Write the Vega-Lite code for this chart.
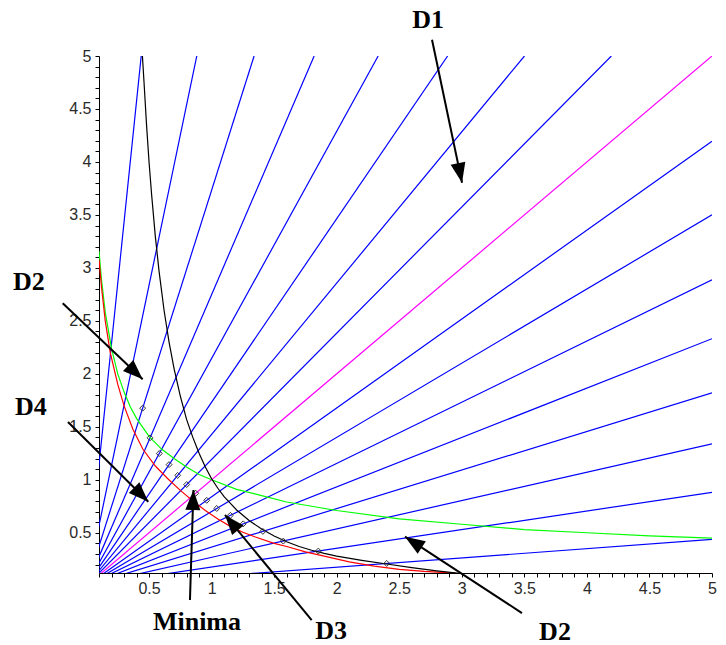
{
  "$schema": "https://vega.github.io/schema/vega-lite/v6.json",
  "width": 613,
  "height": 517,
  "autosize": {"type": "none"},
  "padding": {"left": 99, "top": 56, "right": 14, "bottom": 72},
  "background": "white",
  "config": {
    "view": {"stroke": null},
    "axis": {
      "grid": false,
      "title": null,
      "domainColor": "#000000",
      "domainWidth": 1,
      "tickColor": "#000000",
      "tickSize": 4,
      "tickWidth": 1,
      "labelFont": "Liberation Sans",
      "labelFontSize": 16,
      "labelColor": "#2a2a2a",
      "labelFlush": false,
      "labelOverlap": false,
      "labelBound": false
    }
  },
  "datasets": {
    "curves": [
      {"curve": "ray", "id": "r05", "x": 0, "y": 0}, {"curve": "ray", "id": "r05", "x": 5, "y": 0.4374},
      {"curve": "ray", "id": "r10", "x": 0, "y": 0}, {"curve": "ray", "id": "r10", "x": 5, "y": 0.8816},
      {"curve": "ray", "id": "r15", "x": 0, "y": 0}, {"curve": "ray", "id": "r15", "x": 5, "y": 1.3397},
      {"curve": "ray", "id": "r20", "x": 0, "y": 0}, {"curve": "ray", "id": "r20", "x": 5, "y": 1.8199},
      {"curve": "ray", "id": "r25", "x": 0, "y": 0}, {"curve": "ray", "id": "r25", "x": 5, "y": 2.3315},
      {"curve": "ray", "id": "r30", "x": 0, "y": 0}, {"curve": "ray", "id": "r30", "x": 5, "y": 2.8868},
      {"curve": "ray", "id": "r35", "x": 0, "y": 0}, {"curve": "ray", "id": "r35", "x": 5, "y": 3.501},
      {"curve": "ray", "id": "r40", "x": 0, "y": 0}, {"curve": "ray", "id": "r40", "x": 5, "y": 4.1955},
      {"curve": "ray", "id": "r50", "x": 0, "y": 0}, {"curve": "ray", "id": "r50", "x": 4.1955, "y": 5},
      {"curve": "ray", "id": "r55", "x": 0, "y": 0}, {"curve": "ray", "id": "r55", "x": 3.501, "y": 5},
      {"curve": "ray", "id": "r60", "x": 0, "y": 0}, {"curve": "ray", "id": "r60", "x": 2.8868, "y": 5},
      {"curve": "ray", "id": "r65", "x": 0, "y": 0}, {"curve": "ray", "id": "r65", "x": 2.3315, "y": 5},
      {"curve": "ray", "id": "r70", "x": 0, "y": 0}, {"curve": "ray", "id": "r70", "x": 1.8199, "y": 5},
      {"curve": "ray", "id": "r75", "x": 0, "y": 0}, {"curve": "ray", "id": "r75", "x": 1.3397, "y": 5},
      {"curve": "ray", "id": "r80", "x": 0, "y": 0}, {"curve": "ray", "id": "r80", "x": 0.8816, "y": 5},
      {"curve": "ray", "id": "r85", "x": 0, "y": 0}, {"curve": "ray", "id": "r85", "x": 0.4374, "y": 5},
      {"curve": "diagonal", "id": "r45", "x": 0, "y": 0}, {"curve": "diagonal", "id": "r45", "x": 5, "y": 5},
      {"curve": "green", "id": "g", "x": 0.1, "y": 3.16},
      {"curve": "green", "id": "g", "x": 0.12, "y": 2.89},
      {"curve": "green", "id": "g", "x": 0.15, "y": 2.58},
      {"curve": "green", "id": "g", "x": 0.2, "y": 2.24},
      {"curve": "green", "id": "g", "x": 0.25, "y": 2.0},
      {"curve": "green", "id": "g", "x": 0.3, "y": 1.83},
      {"curve": "green", "id": "g", "x": 0.35, "y": 1.69},
      {"curve": "green", "id": "g", "x": 0.4, "y": 1.58},
      {"curve": "green", "id": "g", "x": 0.5, "y": 1.41},
      {"curve": "green", "id": "g", "x": 0.6, "y": 1.29},
      {"curve": "green", "id": "g", "x": 0.7, "y": 1.2},
      {"curve": "green", "id": "g", "x": 0.8, "y": 1.12},
      {"curve": "green", "id": "g", "x": 0.9, "y": 1.05},
      {"curve": "green", "id": "g", "x": 1.0, "y": 1.0},
      {"curve": "green", "id": "g", "x": 1.2, "y": 0.91},
      {"curve": "green", "id": "g", "x": 1.4, "y": 0.85},
      {"curve": "green", "id": "g", "x": 1.6, "y": 0.79},
      {"curve": "green", "id": "g", "x": 1.8, "y": 0.75},
      {"curve": "green", "id": "g", "x": 2.0, "y": 0.71},
      {"curve": "green", "id": "g", "x": 2.5, "y": 0.63},
      {"curve": "green", "id": "g", "x": 3.0, "y": 0.58},
      {"curve": "green", "id": "g", "x": 3.5, "y": 0.53},
      {"curve": "green", "id": "g", "x": 4.0, "y": 0.5},
      {"curve": "green", "id": "g", "x": 4.5, "y": 0.47},
      {"curve": "green", "id": "g", "x": 5.0, "y": 0.45},
      {"curve": "red", "id": "rd", "x": 0.1, "y": 3.08},
      {"curve": "red", "id": "rd", "x": 0.12, "y": 2.82},
      {"curve": "red", "id": "rd", "x": 0.15, "y": 2.5},
      {"curve": "red", "id": "rd", "x": 0.19, "y": 2.2},
      {"curve": "red", "id": "rd", "x": 0.25, "y": 1.9},
      {"curve": "red", "id": "rd", "x": 0.3, "y": 1.7},
      {"curve": "red", "id": "rd", "x": 0.37, "y": 1.48},
      {"curve": "red", "id": "rd", "x": 0.45, "y": 1.29},
      {"curve": "red", "id": "rd", "x": 0.55, "y": 1.13},
      {"curve": "red", "id": "rd", "x": 0.65, "y": 1.01},
      {"curve": "red", "id": "rd", "x": 0.75, "y": 0.9},
      {"curve": "red", "id": "rd", "x": 0.8, "y": 0.85},
      {"curve": "red", "id": "rd", "x": 0.85, "y": 0.8},
      {"curve": "red", "id": "rd", "x": 0.95, "y": 0.71},
      {"curve": "red", "id": "rd", "x": 1.05, "y": 0.63},
      {"curve": "red", "id": "rd", "x": 1.15, "y": 0.56},
      {"curve": "red", "id": "rd", "x": 1.25, "y": 0.505},
      {"curve": "red", "id": "rd", "x": 1.35, "y": 0.46},
      {"curve": "red", "id": "rd", "x": 1.5, "y": 0.4},
      {"curve": "red", "id": "rd", "x": 1.6, "y": 0.37},
      {"curve": "red", "id": "rd", "x": 1.75, "y": 0.32},
      {"curve": "red", "id": "rd", "x": 1.9, "y": 0.28},
      {"curve": "red", "id": "rd", "x": 2.1, "y": 0.225},
      {"curve": "red", "id": "rd", "x": 2.3, "y": 0.185},
      {"curve": "red", "id": "rd", "x": 2.5, "y": 0.155},
      {"curve": "red", "id": "rd", "x": 2.7, "y": 0.135},
      {"curve": "red", "id": "rd", "x": 2.95, "y": 0.118},
      {"curve": "black", "id": "bk", "x": 0.447, "y": 5.0},
      {"curve": "black", "id": "bk", "x": 0.46, "y": 4.75},
      {"curve": "black", "id": "bk", "x": 0.48, "y": 4.35},
      {"curve": "black", "id": "bk", "x": 0.5, "y": 4.0},
      {"curve": "black", "id": "bk", "x": 0.52, "y": 3.7},
      {"curve": "black", "id": "bk", "x": 0.55, "y": 3.3},
      {"curve": "black", "id": "bk", "x": 0.58, "y": 2.97},
      {"curve": "black", "id": "bk", "x": 0.62, "y": 2.6},
      {"curve": "black", "id": "bk", "x": 0.66, "y": 2.3},
      {"curve": "black", "id": "bk", "x": 0.7, "y": 2.05},
      {"curve": "black", "id": "bk", "x": 0.75, "y": 1.79},
      {"curve": "black", "id": "bk", "x": 0.8, "y": 1.57},
      {"curve": "black", "id": "bk", "x": 0.85, "y": 1.4},
      {"curve": "black", "id": "bk", "x": 0.9, "y": 1.25},
      {"curve": "black", "id": "bk", "x": 0.95, "y": 1.12},
      {"curve": "black", "id": "bk", "x": 1.0, "y": 1.01},
      {"curve": "black", "id": "bk", "x": 1.05, "y": 0.92},
      {"curve": "black", "id": "bk", "x": 1.1, "y": 0.84},
      {"curve": "black", "id": "bk", "x": 1.2, "y": 0.715},
      {"curve": "black", "id": "bk", "x": 1.3, "y": 0.615},
      {"curve": "black", "id": "bk", "x": 1.4, "y": 0.535},
      {"curve": "black", "id": "bk", "x": 1.5, "y": 0.47},
      {"curve": "black", "id": "bk", "x": 1.6, "y": 0.415},
      {"curve": "black", "id": "bk", "x": 1.7, "y": 0.37},
      {"curve": "black", "id": "bk", "x": 1.8, "y": 0.335},
      {"curve": "black", "id": "bk", "x": 1.9, "y": 0.305},
      {"curve": "black", "id": "bk", "x": 2.0, "y": 0.28},
      {"curve": "black", "id": "bk", "x": 2.2, "y": 0.24},
      {"curve": "black", "id": "bk", "x": 2.4, "y": 0.205},
      {"curve": "black", "id": "bk", "x": 2.6, "y": 0.17},
      {"curve": "black", "id": "bk", "x": 2.8, "y": 0.14},
      {"curve": "black", "id": "bk", "x": 3.0, "y": 0.115}
    ],
    "diamonds": [
      {"x": 0.449, "y": 1.676},
      {"x": 0.508, "y": 1.396},
      {"x": 0.582, "y": 1.248},
      {"x": 0.66, "y": 1.143},
      {"x": 0.729, "y": 1.041},
      {"x": 0.801, "y": 0.955},
      {"x": 0.873, "y": 0.873},
      {"x": 0.961, "y": 0.806},
      {"x": 1.041, "y": 0.729},
      {"x": 1.15, "y": 0.664},
      {"x": 1.253, "y": 0.584},
      {"x": 1.41, "y": 0.513},
      {"x": 1.573, "y": 0.421},
      {"x": 1.853, "y": 0.327},
      {"x": 2.4, "y": 0.21}
    ],
    "arrows": [
      {"id": "a1", "x": 3.002, "y": 3.803, "x2": 2.762, "y2": 5.153},
      {"id": "a2", "x": 0.449, "y": 1.949, "x2": -0.19, "y2": 2.667},
      {"id": "a3", "x": 0.494, "y": 0.793, "x2": -0.148, "y2": 1.545},
      {"id": "a4", "x": 0.855, "y": 0.904, "x2": 0.827, "y2": -0.135},
      {"id": "a5", "x": 1.107, "y": 0.668, "x2": 1.8, "y2": -0.324},
      {"id": "a6", "x": 2.546, "y": 0.463, "x2": 3.481, "y2": -0.258}
    ],
    "labels": [
      {"text": "D1", "x": 2.73, "y": 5.266},
      {"text": "D2", "x": -0.46, "y": 2.792},
      {"text": "D4", "x": -0.444, "y": 1.612},
      {"text": "Minima", "x": 0.883, "y": -0.418},
      {"text": "D3", "x": 1.955, "y": -0.5},
      {"text": "D2", "x": 3.745, "y": -0.513}
    ]
  },
  "encoding": {
    "x": {
      "field": "x",
      "type": "quantitative",
      "scale": {"domain": [0.1, 5], "nice": false, "zero": false},
      "axis": {
        "title": null,
        "values": [0.1,0.2,0.3,0.4,0.5,0.6,0.7,0.8,0.9,1,1.1,1.2,1.3,1.4,1.5,1.6,1.7,1.8,1.9,2,2.1,2.2,2.3,2.4,2.5,2.6,2.7,2.8,2.9,3,3.1,3.2,3.3,3.4,3.5,3.6,3.7,3.8,3.9,4,4.1,4.2,4.3,4.4,4.5,4.6,4.7,4.8,4.9,5],
        "labelExpr": "(round(datum.value*10) % 5 == 0) ? format(datum.value, '~g') : ''",
        "labelPadding": 3
      }
    },
    "y": {
      "field": "y",
      "type": "quantitative",
      "scale": {"domain": [0.12, 5], "nice": false, "zero": false},
      "axis": {
        "title": null,
        "values": [0.2,0.3,0.4,0.5,0.6,0.7,0.8,0.9,1,1.1,1.2,1.3,1.4,1.5,1.6,1.7,1.8,1.9,2,2.1,2.2,2.3,2.4,2.5,2.6,2.7,2.8,2.9,3,3.1,3.2,3.3,3.4,3.5,3.6,3.7,3.8,3.9,4,4.1,4.2,4.3,4.4,4.5,4.6,4.7,4.8,4.9,5],
        "labelExpr": "(round(datum.value*10) % 5 == 0) ? format(datum.value, '~g') : ''",
        "labelPadding": 4
      }
    }
  },
  "layer": [
    {
      "data": {"name": "curves"},
      "mark": {"type": "line", "clip": true, "strokeWidth": 1.2},
      "encoding": {
        "color": {
          "field": "curve",
          "type": "nominal",
          "scale": {"domain": ["ray", "diagonal", "green", "red", "black"], "range": ["#0000FF", "#FF00FF", "#00FF00", "#FF0000", "#000000"]},
          "legend": null
        },
        "detail": {"field": "id", "type": "nominal"}
      }
    },
    {
      "data": {"name": "diamonds"},
      "mark": {"type": "point", "shape": "diamond", "filled": false, "size": 35, "color": "#333333", "strokeWidth": 1, "opacity": 1}
    },
    {
      "data": {"name": "arrows"},
      "mark": {"type": "rule", "color": "#000000", "strokeWidth": 2},
      "encoding": {
        "x2": {"field": "x2"},
        "y2": {"field": "y2"}
      }
    },
    {
      "data": {"name": "arrows"},
      "transform": [{"filter": "datum.id == 'a1'"}],
      "mark": {"type": "point", "shape": "M0,0L0.75,2L-0.75,2Z", "filled": true, "size": 400, "color": "#000000", "opacity": 1, "strokeWidth": 0, "angle": 168.2}
    },
    {
      "data": {"name": "arrows"},
      "transform": [{"filter": "datum.id == 'a2'"}],
      "mark": {"type": "point", "shape": "M0,0L0.75,2L-0.75,2Z", "filled": true, "size": 400, "color": "#000000", "opacity": 1, "strokeWidth": 0, "angle": 133.5}
    },
    {
      "data": {"name": "arrows"},
      "transform": [{"filter": "datum.id == 'a3'"}],
      "mark": {"type": "point", "shape": "M0,0L0.75,2L-0.75,2Z", "filled": true, "size": 400, "color": "#000000", "opacity": 1, "strokeWidth": 0, "angle": 134.8}
    },
    {
      "data": {"name": "arrows"},
      "transform": [{"filter": "datum.id == 'a4'"}],
      "mark": {"type": "point", "shape": "M0,0L0.75,2L-0.75,2Z", "filled": true, "size": 400, "color": "#000000", "opacity": 1, "strokeWidth": 0, "angle": 1.8}
    },
    {
      "data": {"name": "arrows"},
      "transform": [{"filter": "datum.id == 'a5'"}],
      "mark": {"type": "point", "shape": "M0,0L0.75,2L-0.75,2Z", "filled": true, "size": 400, "color": "#000000", "opacity": 1, "strokeWidth": 0, "angle": 319.9}
    },
    {
      "data": {"name": "arrows"},
      "transform": [{"filter": "datum.id == 'a6'"}],
      "mark": {"type": "point", "shape": "M0,0L0.75,2L-0.75,2Z", "filled": true, "size": 400, "color": "#000000", "opacity": 1, "strokeWidth": 0, "angle": 303.1}
    },
    {
      "data": {"name": "labels"},
      "mark": {"type": "text", "font": "Liberation Serif", "fontWeight": "bold", "fontSize": 26, "color": "#000000", "align": "center", "baseline": "alphabetic"},
      "encoding": {"text": {"field": "text", "type": "nominal"}}
    }
  ]
}
